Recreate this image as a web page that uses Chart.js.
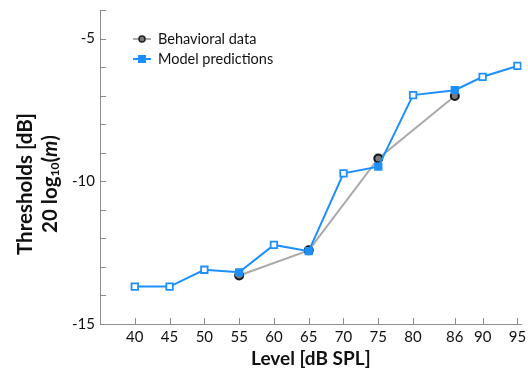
<!DOCTYPE html>
<html>
<head>
<meta charset="utf-8">
<script src="https://cdn.jsdelivr.net/npm/chart.js@4.4.1/dist/chart.umd.min.js"></script>
<style>
  html, body { margin: 0; padding: 0; background: #fff; }
  #wrap { width: 528px; height: 373px; position: relative; }
</style>
</head>
<body>
<div id="wrap"><canvas id="chart"></canvas></div>
<script>
// levels (dB SPL) shown on the x axis
const levels = [40, 45, 50, 55, 60, 65, 70, 75, 80, 86, 90, 95];
// model predictions for every level
const modelValues = [-13.69, -13.69, -13.10, -13.19, -12.23, -12.45, -9.72, -9.49, -6.98, -6.81, -6.34, -5.96];
// levels that were measured behaviorally (drawn as filled squares in the model series)
const behavLevels = [55, 65, 75, 86];
const behavValues = [-13.30, -12.42, -9.20, -7.01];

const blue = '#1e8fff';
const grayLine = '#aaaaaa';
const axisCol = '#8c8c8c';
const font = 'Lato, "Open Sans", sans-serif';

const modelData = levels.map((x, i) => ({ x: x, y: modelValues[i] }));
const behavData = behavLevels.map((x, i) => ({ x: x, y: behavValues[i] }));
const modelFill = levels.map(x => behavLevels.includes(x) ? blue : '#ffffff');

// short ticks pointing into the plot
const innerTicks = {
  id: 'innerTicks',
  afterDraw(chart) {
    const { ctx, chartArea, scales } = chart;
    ctx.save();
    ctx.strokeStyle = axisCol;
    ctx.lineWidth = 1;
    ctx.beginPath();
    scales.x.ticks.forEach(t => {
      const px = Math.round(scales.x.getPixelForValue(t.value)) + 0.5;
      ctx.moveTo(px, chartArea.bottom);
      ctx.lineTo(px, chartArea.bottom - 6);
    });
    scales.y.ticks.forEach(t => {
      const py = Math.round(scales.y.getPixelForValue(t.value)) + 0.5;
      ctx.moveTo(chartArea.left, py);
      ctx.lineTo(chartArea.left + 6, py);
    });
    ctx.stroke();
    ctx.restore();
  }
};

// two-line y title with subscript and italic m
const yTitle = {
  id: 'yTitle',
  afterDraw(chart) {
    const { ctx } = chart;
    ctx.save();
    ctx.fillStyle = '#111';
    ctx.textBaseline = 'middle';
    ctx.translate(25, 184);
    ctx.rotate(-Math.PI / 2);
    ctx.font = 'bold 20.5px ' + font;
    ctx.textAlign = 'center';
    ctx.fillText('Thresholds [dB]', 0, 0);

    // second line, built from pieces
    const big = 'bold 20.5px ' + font;
    const small = 'bold 12px ' + font;
    const ital = 'italic bold 20.5px ' + font;
    const parts = [
      ['20 log', big, 0],
      ['10', small, 5],
      ['(', big, 0],
      ['m', ital, 0],
      [')', big, 0]
    ];
    let total = 0;
    parts.forEach(p => { ctx.font = p[1]; total += ctx.measureText(p[0]).width; });
    let x = -total / 2;
    ctx.textAlign = 'left';
    parts.forEach(p => {
      ctx.font = p[1];
      ctx.fillText(p[0], x, 25 + p[2]);
      x += ctx.measureText(p[0]).width;
    });
    ctx.restore();
  }
};

// legend with line + marker, inside the plot at top left
const legendBox = {
  id: 'legendBox',
  afterDraw(chart) {
    const { ctx, chartArea } = chart;
    const x0 = chartArea.left + 33;
    const rows = [
      { label: 'Behavioral data', y: chartArea.top + 29, line: grayLine, kind: 'circle' },
      { label: 'Model predictions', y: chartArea.top + 49, line: blue, kind: 'rect' }
    ];
    ctx.save();
    rows.forEach(r => {
      ctx.strokeStyle = r.line;
      ctx.lineWidth = 2;
      ctx.beginPath();
      ctx.moveTo(x0, r.y);
      ctx.lineTo(x0 + 18, r.y);
      ctx.stroke();
      if (r.kind === 'circle') {
        ctx.beginPath();
        ctx.arc(x0 + 9, r.y, 3, 0, Math.PI * 2);
        ctx.fillStyle = '#7a7a7a';
        ctx.fill();
        ctx.strokeStyle = '#222';
        ctx.lineWidth = 1.5;
        ctx.stroke();
      } else {
        ctx.fillStyle = blue;
        ctx.fillRect(x0 + 5, r.y - 4, 8, 8);
      }
      ctx.fillStyle = '#111';
      ctx.font = '14.5px ' + font;
      ctx.textAlign = 'left';
      ctx.textBaseline = 'middle';
      ctx.fillText(r.label, x0 + 25, r.y);
    });
    ctx.restore();
  }
};

new Chart(document.getElementById('chart'), {
  type: 'line',
  data: {
    datasets: [{
      label: 'Behavioral data',
      data: behavData,
      borderColor: grayLine,
      borderWidth: 2,
      pointStyle: 'circle',
      pointRadius: 4,
      pointBorderWidth: 2,
      pointBorderColor: '#151515',
      pointBackgroundColor: '#7a7a7a',
      tension: 0,
      order: 2
    }, {
      label: 'Model predictions',
      data: modelData,
      borderColor: blue,
      borderWidth: 2,
      pointStyle: 'rect',
      pointRadius: 4.6,
      pointBorderWidth: 1.8,
      pointBorderColor: blue,
      pointBackgroundColor: modelFill,
      tension: 0,
      order: 1
    }]
  },
  options: {
    responsive: true,
    maintainAspectRatio: false,
    animation: false,
    layout: { padding: { top: 10, right: 1, left: 0, bottom: 0 } },
    plugins: {
      legend: { display: false },
      tooltip: { enabled: false }
    },
    scales: {
      x: {
        type: 'linear',
        min: 35,
        max: 95.6,
        afterBuildTicks: scale => { scale.ticks = levels.map(v => ({ value: v })); },
        afterFit: scale => {
          scale.height = 49;
          scale.paddingLeft = 0;
          scale.paddingRight = 0;
        },
        grid: { display: false, drawTicks: false },
        border: { display: true, color: axisCol, width: 1 },
        ticks: {
          color: '#111',
          font: { family: font, size: 15 },
          padding: 4,
          maxRotation: 0,
          autoSkip: false,
          callback: v => String(v)
        },
        title: {
          display: true,
          text: 'Level [dB SPL]',
          color: '#111',
          font: { family: font, size: 19, weight: 'bold' },
          padding: { top: 0, bottom: 3 }
        }
      },
      y: {
        type: 'linear',
        min: -15,
        max: -4,
        afterFit: scale => {
          scale.width = 100;
          scale.paddingTop = 0;
          scale.paddingBottom = 0;
        },
        grid: { display: false, drawTicks: false },
        border: { display: true, color: axisCol, width: 1 },
        ticks: {
          stepSize: 1,
          color: '#111',
          font: { family: font, size: 15 },
          padding: 5,
          autoSkip: false,
          callback: v => (v % 5 === 0 ? String(v) : '')
        }
      }
    }
  },
  plugins: [innerTicks, yTitle, legendBox]
});
</script>
</body>
</html>
